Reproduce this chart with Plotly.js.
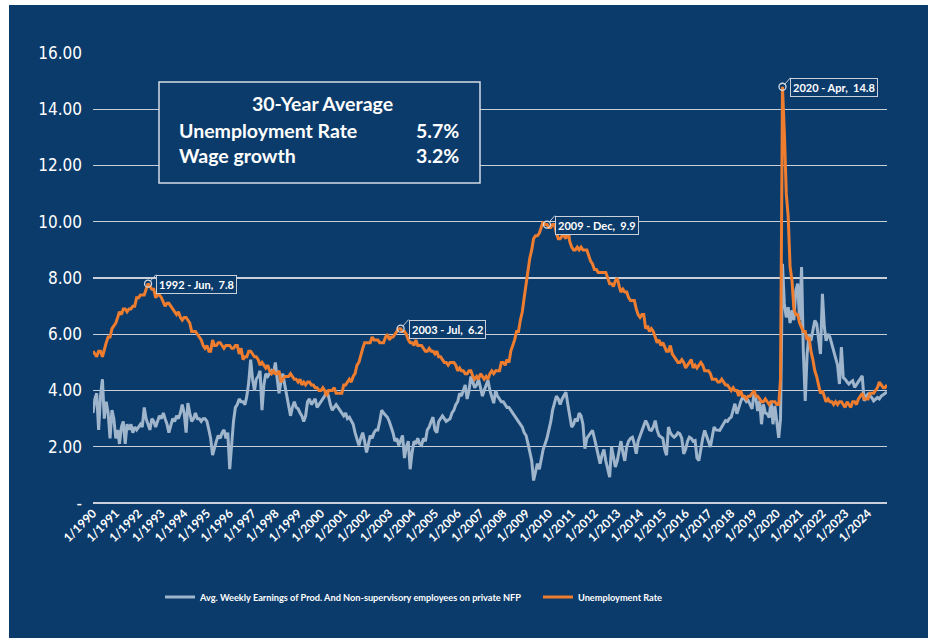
<!DOCTYPE html>
<html><head><meta charset="utf-8">
<script src="https://cdn.plot.ly/plotly-3.0.1.min.js"></script>
<style>
html,body{margin:0;padding:0;background:#ffffff;width:928px;height:638px;overflow:hidden}
#chart{position:absolute;left:9px;top:5px;width:919px;height:633px}
</style></head><body><div id="chart"></div>
<script>
// ---- data (monthly, starting Jan 1990) ----
const startYear = 1990;
const unemploymentRate = [
 5.4,5.3,5.2,5.4,5.4,5.2,5.5,5.7,5.9,5.9,6.2,6.3,
 6.4,6.6,6.8,6.7,6.9,6.9,6.8,6.9,6.9,7.0,7.0,7.3,
 7.3,7.4,7.4,7.4,7.6,7.8,7.7,7.6,7.6,7.3,7.4,7.4,
 7.3,7.1,7.0,7.1,7.1,7.0,6.9,6.8,6.7,6.8,6.6,6.5,
 6.6,6.6,6.5,6.4,6.1,6.1,6.1,6.0,5.9,5.8,5.6,5.5,
 5.6,5.4,5.4,5.8,5.6,5.6,5.7,5.7,5.6,5.5,5.6,5.6,
 5.6,5.5,5.5,5.6,5.6,5.3,5.5,5.1,5.2,5.2,5.4,5.4,
 5.3,5.2,5.2,5.1,4.9,5.0,4.9,4.8,4.9,4.7,4.6,4.7,
 4.6,4.6,4.7,4.3,4.4,4.5,4.5,4.5,4.6,4.5,4.4,4.4,
 4.3,4.4,4.2,4.3,4.2,4.3,4.3,4.2,4.2,4.1,4.1,4.0,
 4.0,4.1,4.0,3.8,4.0,4.0,4.0,4.1,3.9,3.9,3.9,3.9,
 4.2,4.2,4.3,4.4,4.3,4.5,4.6,4.9,5.0,5.3,5.5,5.7,
 5.7,5.7,5.7,5.9,5.8,5.8,5.8,5.7,5.7,5.7,5.9,6.0,
 5.8,5.9,5.9,6.0,6.1,6.2,6.2,6.1,6.1,6.0,5.8,5.7,
 5.7,5.6,5.8,5.6,5.6,5.6,5.5,5.4,5.4,5.5,5.4,5.4,
 5.3,5.4,5.2,5.2,5.1,5.0,5.0,4.9,5.0,5.0,5.0,4.9,
 4.7,4.8,4.7,4.7,4.6,4.6,4.7,4.7,4.5,4.4,4.5,4.4,
 4.6,4.5,4.4,4.5,4.4,4.6,4.7,4.6,4.7,4.7,4.7,5.0,
 5.0,4.9,5.1,5.0,5.4,5.6,5.8,6.1,6.1,6.5,6.8,7.3,
 7.8,8.3,8.7,9.0,9.4,9.5,9.5,9.6,9.8,10.0,9.9,9.9,
 9.8,9.8,9.9,9.9,9.6,9.4,9.4,9.5,9.5,9.4,9.8,9.3,
 9.1,9.0,9.0,9.1,9.0,9.1,9.0,9.0,9.0,8.8,8.6,8.5,
 8.3,8.3,8.2,8.2,8.2,8.2,8.2,8.0,7.8,7.8,7.7,7.9,
 8.0,7.7,7.5,7.6,7.5,7.5,7.3,7.2,7.2,7.2,6.9,6.7,
 6.6,6.7,6.7,6.2,6.3,6.1,6.2,6.1,5.9,5.7,5.8,5.6,
 5.7,5.5,5.4,5.4,5.6,5.3,5.2,5.1,5.0,5.0,5.1,5.0,
 4.8,4.9,5.0,5.1,4.8,4.9,4.8,4.9,5.0,4.9,4.7,4.7,
 4.7,4.6,4.4,4.4,4.4,4.3,4.3,4.4,4.3,4.2,4.2,4.1,
 4.0,4.1,4.0,4.0,3.8,4.0,3.8,3.8,3.7,3.8,3.8,3.9,
 4.0,3.8,3.8,3.7,3.6,3.6,3.7,3.6,3.5,3.6,3.6,3.6,
 3.5,3.5,4.4,14.8,13.2,11.0,10.2,8.4,7.9,6.9,6.7,6.7,
 6.4,6.2,6.1,6.1,5.8,5.9,5.4,5.1,4.7,4.5,4.2,3.9,
 4.0,3.8,3.6,3.7,3.6,3.6,3.5,3.6,3.5,3.6,3.6,3.5,
 3.4,3.6,3.5,3.4,3.6,3.6,3.5,3.7,3.8,3.9,3.7,3.7,
 3.7,3.9,3.9,3.9,4.0,4.1,4.3,4.2,4.1,4.1,4.2
];
const wageGrowth = [
 3.2,3.7,3.9,2.6,3.8,4.4,3.0,3.6,3.2,2.3,3.3,3.0,
 2.3,2.6,2.1,2.7,2.9,2.1,2.8,2.6,2.8,2.5,2.7,2.6,
 2.7,2.8,2.7,3.4,3.0,2.8,2.6,3.0,2.9,2.7,2.9,3.1,
 3.0,3.2,3.0,2.8,2.5,2.8,3.0,2.9,3.1,3.0,3.2,3.5,
 3.2,2.5,3.55,3.2,2.9,3.0,3.2,3.0,3.0,2.9,3.0,3.0,
 2.9,2.6,2.3,1.7,2.0,2.2,2.4,2.3,2.5,2.6,2.3,2.5,
 1.2,2.2,2.9,3.4,3.5,3.7,3.6,3.6,3.5,3.8,4.3,5.1,
 4.4,4.0,4.4,4.5,4.7,3.3,4.2,4.6,4.5,4.6,4.7,4.6,
 5.0,4.4,3.9,4.3,4.6,4.2,3.8,3.4,3.1,3.4,3.6,3.4,
 3.35,3.2,3.1,2.9,3.1,3.6,3.7,3.5,3.6,3.7,3.4,3.5,
 3.6,3.7,3.8,4.0,3.8,3.5,3.3,3.4,3.5,3.4,3.3,3.2,
 3.1,3.2,3.0,3.05,2.9,2.8,2.5,2.3,2.05,2.3,2.5,2.2,
 1.8,2.1,2.4,2.3,2.5,2.6,2.6,2.9,3.3,3.2,3.1,3.05,
 2.9,2.7,2.5,2.2,2.3,2.05,2.2,2.4,1.6,2.0,2.2,1.2,
 1.8,2.2,2.1,2.3,2.1,2.05,2.3,2.2,2.6,2.7,2.9,3.05,
 2.6,2.5,2.9,3.0,3.1,3.0,2.9,2.95,3.0,3.2,3.3,3.5,
 3.6,3.9,3.8,4.0,4.2,3.7,4.0,4.5,4.3,4.1,4.2,4.4,
 4.1,3.8,4.0,4.2,4.36,4.0,3.8,3.55,4.0,3.8,3.7,3.6,
 3.6,3.5,3.4,3.4,3.3,3.2,3.1,3.0,2.9,2.8,2.7,2.5,
 2.4,2.1,1.8,1.5,0.8,1.1,1.4,1.2,1.6,1.9,2.1,2.3,
 2.6,2.9,3.3,3.6,3.8,3.7,3.5,3.7,3.8,3.94,3.5,3.05,
 2.7,2.8,3.0,2.9,3.2,3.1,2.8,1.93,2.3,2.4,2.5,2.58,
 2.3,2.0,1.6,1.4,1.7,1.9,1.5,1.2,0.92,2.0,1.6,1.28,
 1.5,1.9,2.2,1.8,1.5,2.0,2.2,2.3,2.34,2.1,1.75,2.2,
 2.4,2.58,2.7,2.93,2.8,2.6,2.58,2.7,2.93,2.6,2.4,2.34,
 2.3,1.9,1.7,2.7,2.5,2.4,2.34,2.4,2.5,2.46,2.3,1.75,
 1.9,2.2,2.34,2.3,2.2,2.22,1.6,1.51,2.0,2.3,2.58,2.4,
 2.2,1.99,2.34,2.7,2.6,2.6,2.58,2.7,2.8,2.93,2.9,3.0,
 3.05,3.3,3.53,3.17,3.4,3.6,3.76,3.7,3.6,3.64,3.5,3.35,
 3.88,3.7,3.27,3.63,2.8,3.51,3.2,3.17,3.04,3.63,2.8,3.45,
 2.9,2.32,3.0,8.5,7.08,6.6,6.96,6.4,6.85,6.5,7.56,7.8,
 6.5,8.39,5.42,3.63,5.3,6.0,5.77,6.1,6.49,6.37,5.8,5.3,
 7.44,6.25,5.77,6.01,5.9,5.65,5.4,5.18,4.9,4.23,5.54,4.46,
 4.4,4.3,4.23,4.3,4.35,4.11,4.2,4.3,4.4,4.52,3.63,3.8,
 3.87,3.8,3.75,3.63,3.7,3.75,3.7,3.8,3.85,3.9,3.95
];
const seriesNames = ['Avg. Weekly Earnings of Prod. And Non-supervisory employees on private NFP', 'Unemployment Rate'];
const yTickVals = [0, 2, 4, 6, 8, 10, 12, 14, 16];
const yTickText = ['-', '2.00', '4.00', '6.00', '8.00', '10.00', '12.00', '14.00', '16.00'];
const peakDates = ['1992-06-01', '2003-07-01', '2009-12-01', '2020-04-01'];
const peakLabels = ['1992 - Jun,\u00a0 7.8', '2003 - Jul,\u00a0 6.2', '2009 - Dec,\u00a0 9.9', '2020 - Apr,\u00a0 14.8'];
const summaryTitle = '30-Year Average';
const summaryNames = ['Unemployment Rate', 'Wage growth'];
const summaryValues = ['5.7%', '3.2%'];

// ---- build ----
const n = unemploymentRate.length;
const dates = [];
for (let i = 0; i < n; i++) {
  const y = startYear + Math.floor(i / 12), m = (i % 12) + 1;
  dates.push(y + '-' + String(m).padStart(2, '0') + '-01');
}
const peakY = peakDates.map(d => unemploymentRate[dates.indexOf(d)]);

const navy = '#0b3b6b';
const grid = '#c9d0da';
const white = '#ffffff';
const orange = '#ee7d2f';
const steel = '#9fb5cc';

const traces = [
  {x: dates, y: wageGrowth, type: 'scatter', mode: 'lines', name: seriesNames[0],
   line: {color: steel, width: 3}, hoverinfo: 'skip', legend: 'legend'},
  {x: dates, y: unemploymentRate, type: 'scatter', mode: 'lines', name: seriesNames[1],
   line: {color: orange, width: 3}, hoverinfo: 'skip', legend: 'legend2'},
  {x: peakDates, y: peakY, type: 'scatter', mode: 'markers', showlegend: false,
   marker: {symbol: 'circle-open', size: 7, color: '#d5dbe3', line: {width: 1.3}}, hoverinfo: 'skip'}
];

// plot box geometry in page px (for paper coords)
const PL = 93, PR = 887, PT = 53, PB = 503;
const px = v => (v - PL) / (PR - PL);
const py = v => (PB - v) / (PB - PT);

const annFont = {family: 'Lato, sans-serif', size: 11, color: white, weight: 700};
const annotations = peakDates.map((d, i) => ({
  x: d, y: peakY[i], xref: 'x', yref: 'y', text: peakLabels[i],
  showarrow: true, arrowhead: 0, arrowwidth: 1, arrowcolor: '#c9d0da',
  ax: 8, ay: -9, xanchor: 'left', yanchor: 'top', standoff: 3,
  bgcolor: navy, bordercolor: '#c9d0da', borderwidth: 1, borderpad: 2,
  font: annFont
}));
const boxFont = {family: 'Lato, sans-serif', size: 19.5, color: white, weight: 700};
annotations.push({xref: 'paper', yref: 'paper', x: px(322), y: py(103), text: summaryTitle,
  showarrow: false, xanchor: 'center', yanchor: 'middle', font: boxFont});
summaryNames.forEach((t, i) => {
  const yy = py(130 + 25 * i);
  annotations.push({xref: 'paper', yref: 'paper', x: px(177), y: yy, text: t,
    showarrow: false, xanchor: 'left', yanchor: 'middle', font: boxFont});
  annotations.push({xref: 'paper', yref: 'paper', x: px(461), y: yy, text: summaryValues[i],
    showarrow: false, xanchor: 'right', yanchor: 'middle', font: boxFont});
});

const legendBase = {orientation: 'h', xanchor: 'left', y: py(597), yanchor: 'middle',
  font: {family: 'Lato, sans-serif', size: 9.2, color: white, weight: 700},
  bgcolor: 'rgba(0,0,0,0)', itemwidth: 30};

const layout = {
  width: 919, height: 633,
  margin: {l: 84, r: 41, t: 48, b: 135, pad: 0},
  paper_bgcolor: navy, plot_bgcolor: navy,
  hovermode: false,
  showlegend: true,
  legend: Object.assign({}, legendBase, {x: px(160)}),
  legend2: Object.assign({}, legendBase, {x: px(538)}),
  xaxis: {type: 'date', range: [dates[0], dates[n - 1]], tickformat: '%-m/%Y', dtick: 'M12',
    tick0: '1990-01-01', tickangle: -45, showgrid: false, zeroline: false, showline: false,
    ticks: '', tickfont: {family: 'Lato, sans-serif', size: 12, color: white, weight: 700}},
  yaxis: {range: [0, 16], tickmode: 'array', tickvals: yTickVals, ticktext: yTickText,
    showgrid: true, gridcolor: grid, gridwidth: 1.3, zeroline: true, zerolinecolor: grid,
    zerolinewidth: 1.3, showline: false, ticks: '', ticklabelstandoff: 10,
    tickfont: {family: '"DejaVu Sans Condensed", "DejaVu Sans", sans-serif', size: 17, color: white, stretch: 'condensed'}},
  shapes: [{type: 'rect', xref: 'paper', yref: 'paper', x0: px(159), x1: px(480), y0: py(183), y1: py(82),
    line: {color: '#d5dbe3', width: 1.5}, fillcolor: navy, layer: 'above'}],
  annotations: annotations
};

Plotly.newPlot('chart', traces, layout, {staticPlot: true, displayModeBar: false});
</script></body></html>
